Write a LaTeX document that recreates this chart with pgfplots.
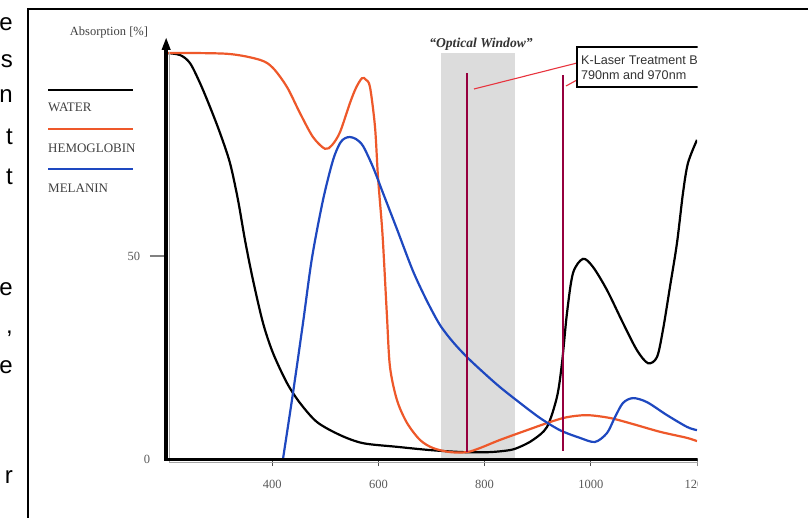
\documentclass[border=0pt]{standalone}
\usepackage{fontspec}
\setmainfont{Liberation Serif}
\newfontfamily\arial{Liberation Sans}
\usepackage{pgfplots}
\pgfplotsset{compat=1.18}
\usetikzlibrary{arrows.meta}

\definecolor{hemo}{RGB}{238,88,42}
\definecolor{mela}{RGB}{30,72,192}
\definecolor{laser}{RGB}{150,0,62}
\definecolor{conn}{RGB}{232,52,62}
\definecolor{band}{RGB}{220,220,220}

\tikzset{frag/.style={anchor=base east, inner sep=0, font=\arial\fontsize{24}{26}\selectfont}}

\begin{document}
\begin{tikzpicture}[x=1pt,y=1pt]
\path[use as bounding box, fill=white] (0,0) rectangle (808,-518);

\begin{scope}
\clip (0,0) rectangle (697.5,-518);

\begin{axis}[
    at={(166pt,-459pt)}, anchor=south west,
    scale only axis, width=531pt, height=418.2pt,
    xmin=200, xmax=1200, ymin=0, ymax=103,
    axis x line=bottom, axis y line=left,
    axis line style={draw=none},
    tick align=outside,
    xtick={400,600,800,1000,1200},
    ytick={50},
    extra y ticks={0},
    extra y tick style={ytick style={draw=none}, yticklabel style={xshift=10pt}},
    xtick style={black!70, line width=0.8pt, /pgfplots/major tick length=7pt},
    ytick style={gray, line width=1.2pt, /pgfplots/major tick length=16pt},
    ticklabel style={font=\fontsize{12.5}{14}\selectfont, text=black!65},
    xticklabel style={yshift=-13pt},
    yticklabel style={xshift=-18pt},
    /pgf/number format/assume math mode=true,
    /pgf/number format/1000 sep={},
  ]
  % optical window
  \addplot[draw=none, fill=band] coordinates {(718,0) (718,100) (857,100) (857,0)};

  % water
  \addplot[black, line width=2.2pt, smooth, tension=0.5] coordinates {
    (200,100.0) (226.4,99.5) (245.2,97.5) (264.0,92.6) (282.9,86.7) (301.7,80.3)
    (320.5,72.9) (335.6,63.8) (348.8,53.9) (363.8,44.1) (382.7,33.5) (401.5,26.1)
    (427.9,18.7) (452.3,13.8) (484.4,9.1) (527.7,5.9) (571.0,3.9) (635.0,3.0)
    (697.2,2.2) (759.3,1.7) (810.2,1.7) (847.8,2.2) (866.7,3.0) (891.1,4.7)
    (917.5,7.9) (936.3,15.3) (945.7,23.6) (955.2,36.0) (966.5,45.8) (985.3,49.3)
    (1004.1,47.3) (1030.5,41.6) (1060.6,33.5) (1086.9,26.8) (1107.7,23.6)
    (1124.6,25.1) (1135.9,31.8) (1149.1,42.4) (1162.3,53.2) (1173.6,65.5)
    (1183.0,72.9) (1200,78.6)
  };

  % hemoglobin
  \addplot[hemo, line width=2.2pt, smooth, tension=0.5] coordinates {
    (200,100.0) (314.9,99.8) (377.0,98.3) (401.5,96.3) (427.9,91.6) (452.3,85.2)
    (476.8,79.3) (499.4,76.4) (512.6,77.3) (527.7,80.5) (546.5,87.7) (557.8,91.4)
    (569.1,93.8) (576.6,93.4) (584.2,91.6) (593.6,81.8) (599.2,69.5) (606.8,57.1)
    (610.5,49.0) (616.2,35.0) (621.8,22.7) (635.0,14.5) (653.8,8.9) (678.3,4.7)
    (702.8,2.7) (734.8,1.7) (766.8,1.7) (791.3,2.7) (829.0,4.7) (879.8,7.1)
    (923.1,9.1) (955.2,10.3) (992.8,10.8) (1036.1,10.1) (1079.5,8.6)
    (1130.3,6.7) (1181.2,5.2) (1200,4.4)
  };

  % melanin
  \addplot[mela, line width=2.2pt, smooth, tension=0.5] coordinates {
    (420.3,0) (439.2,16.3) (458.0,33.5) (474.9,49.5) (495.7,63.8) (514.5,73.6)
    (527.7,77.8) (537.1,79.0) (546.5,79.3) (557.8,78.8) (571.0,77.1) (589.8,71.9)
    (608.7,65.5) (635.0,56.6) (665.1,46.3) (691.5,38.9) (716.0,33.0)
    (740.5,28.8) (766.8,25.1) (797.0,21.4) (829.0,17.7) (866.7,13.8) (904.3,10.1)
    (941.9,7.1) (979.6,5.2) (1007.9,4.2) (1030.5,6.4) (1045.5,10.3) (1060.6,13.8)
    (1079.5,15.0) (1105.8,14.0) (1143.5,10.8) (1181.2,7.9) (1200,7.1)
  };

  % laser lines
  \addplot[laser, line width=1.5pt] coordinates {(767,1.8) (767,95.1)};
  \addplot[laser, line width=1.5pt] coordinates {(948,2.0) (948,94.6)};
\end{axis}

% heavy axis lines with a grey shadow, as in the scan
\draw[black!35, line width=1.2pt] (169.2,-461.5) -- (169.2,-52);
\draw[black!35, line width=1.2pt] (169.2,-462.2) -- (697.5,-462.2);
\fill (164.3,-461) rectangle (168,-48);
\fill (166.15,-38) -- (161.5,-50) -- (170.8,-50) -- cycle;
\draw[line width=2.8pt] (164.3,-459.6) -- (697.5,-459.6);

% callout
\draw[conn, line width=1.1pt] (577,-63) -- (474,-89);
\draw[conn, line width=1.1pt] (577,-80) -- (566,-86);
\draw[line width=1.8pt, fill=white] (577,-47) rectangle (760,-87);
\node[anchor=base west, inner sep=0, font=\arial\fontsize{12.6}{14}\selectfont, text=black!80]
  at (581,-65) {K-Laser Treatment Band};
\node[anchor=base west, inner sep=0, font=\arial\fontsize{12.6}{14}\selectfont, text=black!80]
  at (581,-80) {790nm and 970nm};

% titles
\node[font=\bfseries\itshape\fontsize{13.6}{15}\selectfont, text=black!80] at (481,-44) {“Optical Window”};
\node[font=\fontsize{12.5}{14}\selectfont, text=black!75] at (109,-32) {Absorption [\%]};

% legend
\draw[black, line width=2.4pt] (48,-90) -- (133,-90);
\draw[hemo, line width=2.4pt] (48,-129) -- (133,-129);
\draw[mela, line width=2.4pt] (48,-169) -- (133,-169);
\node[anchor=west, inner sep=0, font=\fontsize{13}{15}\selectfont, text=black!75] at (48,-107) {WATER};
\node[anchor=west, inner sep=0, font=\fontsize{13}{15}\selectfont, text=black!75] at (48,-148) {HEMOGLOBIN};
\node[anchor=west, inner sep=0, font=\fontsize{13}{15}\selectfont, text=black!75] at (48,-188) {MELANIN};

% cut-off paragraph text on the left
\node[frag] at (13,-31) {e};
\node[frag] at (13,-68) {s};
\node[frag] at (13,-103) {n};
\node[frag] at (13,-145) {t};
\node[frag] at (13,-185) {t};
\node[frag] at (13,-296) {e};
\node[frag] at (13,-334) {,};
\node[frag] at (13,-373) {e};
\node[frag] at (13,-483) {r};
\end{scope}

% frame
\draw[line width=2.5pt] (28,-518) -- (28,-9) -- (808,-9);
\end{tikzpicture}
\end{document}
